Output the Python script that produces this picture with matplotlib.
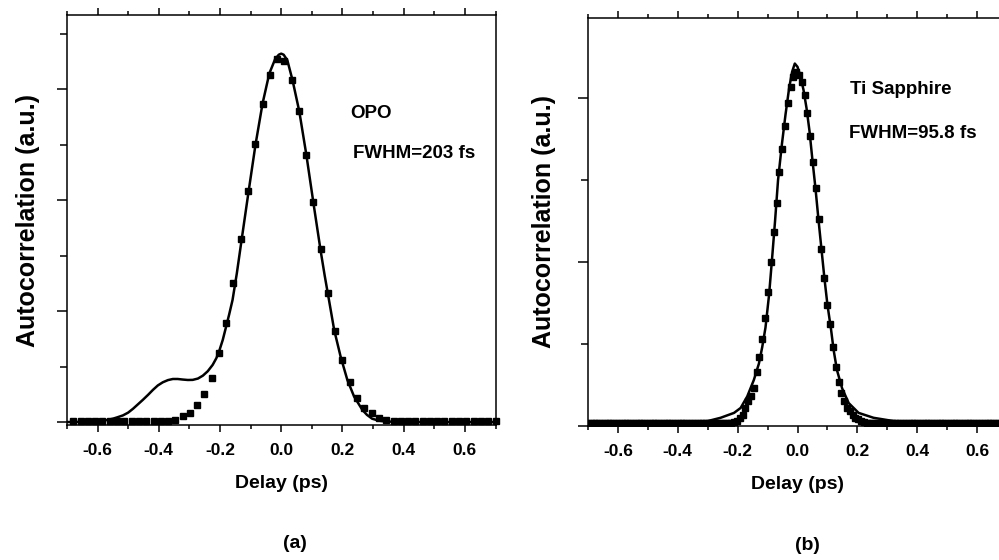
import matplotlib.pyplot as plt
from matplotlib.ticker import MultipleLocator, NullFormatter

plt.rcParams['font.family'] = ['Liberation Sans', 'DejaVu Sans']
plt.rcParams['font.weight'] = 'bold'

# (a) OPO - measured autocorrelation (squares)
opo_delay = [-0.679, -0.655, -0.631, -0.608, -0.584, -0.560, -0.536, -0.512, -0.489,
             -0.465, -0.441, -0.417, -0.394, -0.370, -0.346, -0.322, -0.299, -0.275,
             -0.251, -0.227, -0.204, -0.180, -0.156, -0.132, -0.108, -0.085, -0.061,
             -0.037, -0.013, 0.010, 0.034, 0.058, 0.082, 0.105, 0.129, 0.153, 0.177,
             0.200, 0.224, 0.248, 0.272, 0.296, 0.319, 0.343, 0.367, 0.391, 0.414,
             0.438, 0.462, 0.486, 0.510, 0.533, 0.557, 0.581, 0.605, 0.629, 0.652,
             0.676, 0.700]
opo_signal = [0.01, 0.01, 0.01, 0.01, 0.01, 0.01, 0.01, 0.01, 0.01,
              0.01, 0.01, 0.01, 0.01, 0.01, 0.02, 0.05, 0.08, 0.15,
              0.25, 0.40, 0.62, 0.89, 1.25, 1.65, 2.08, 2.51, 2.87,
              3.13, 3.27, 3.25, 3.08, 2.80, 2.41, 1.98, 1.56, 1.16, 0.82,
              0.56, 0.36, 0.22, 0.13, 0.08, 0.04, 0.02, 0.01, 0.01, 0.01,
              0.01, 0.01, 0.01, 0.01, 0.01, 0.01, 0.01, 0.01, 0.01, 0.01,
              0.01, 0.01]

# (a) OPO - solid curve
opo_fit_delay = [-0.70, -0.62, -0.58, -0.55, -0.535, -0.517, -0.50, -0.484, -0.468,
                 -0.452, -0.435, -0.419, -0.403, -0.387, -0.370, -0.354, -0.338,
                 -0.322, -0.305, -0.289, -0.272, -0.256, -0.240, -0.224, -0.212,
                 -0.202, -0.191, -0.180, -0.170, -0.159, -0.145, -0.130, -0.107,
                 -0.084, -0.061, -0.039, -0.020, -0.008, 0.0, 0.008, 0.020, 0.037,
                 0.059, 0.082, 0.106, 0.129, 0.142, 0.156, 0.173, 0.194, 0.216,
                 0.238, 0.265, 0.280, 0.297, 0.320, 0.341, 0.40, 0.70]
opo_fit = [0.0, 0.003, 0.012, 0.03, 0.043, 0.06, 0.085, 0.12, 0.16,
           0.20, 0.245, 0.29, 0.33, 0.358, 0.378, 0.388, 0.388,
           0.383, 0.379, 0.380, 0.392, 0.418, 0.458, 0.515, 0.575,
           0.645, 0.74, 0.86, 0.97, 1.10, 1.34, 1.63, 2.07,
           2.50, 2.87, 3.14, 3.27, 3.31, 3.32, 3.31, 3.26, 3.08,
           2.80, 2.41, 1.96, 1.54, 1.32, 1.10, 0.83, 0.59, 0.38,
           0.23, 0.11, 0.065, 0.03, 0.012, 0.005, 0.0, 0.0]

# (b) Ti Sapphire - measured autocorrelation (squares)
ti_delay = [-0.700, -0.691, -0.681, -0.672, -0.663, -0.653, -0.644, -0.634, -0.625,
            -0.616, -0.606, -0.597, -0.587, -0.578, -0.569, -0.559, -0.550, -0.540,
            -0.531, -0.522, -0.512, -0.503, -0.493, -0.484, -0.475, -0.465, -0.456,
            -0.446, -0.437, -0.428, -0.418, -0.409, -0.399, -0.390, -0.381, -0.371,
            -0.362, -0.352, -0.343, -0.334, -0.324, -0.315, -0.305, -0.296, -0.287,
            -0.277, -0.268, -0.258, -0.249, -0.240, -0.230, -0.221,
            -0.211, -0.202, -0.193, -0.183, -0.174, -0.164, -0.155, -0.146, -0.136,
            -0.127, -0.117, -0.108, -0.099, -0.089, -0.080, -0.070, -0.061, -0.052,
            -0.042, -0.033, -0.023, -0.014, -0.005, 0.005, 0.014, 0.024, 0.033,
            0.043, 0.052, 0.061, 0.071, 0.080, 0.090, 0.099, 0.108, 0.118, 0.127,
            0.137, 0.146, 0.155, 0.165, 0.174, 0.184, 0.193, 0.202, 0.212, 0.221,
            0.231, 0.240, 0.249, 0.259, 0.268, 0.278, 0.287, 0.296, 0.306, 0.315,
            0.325, 0.334, 0.343, 0.353, 0.362, 0.372, 0.381, 0.390, 0.400, 0.409,
            0.419, 0.428, 0.437, 0.447, 0.456, 0.466, 0.475, 0.484, 0.494, 0.503,
            0.513, 0.522, 0.531, 0.541, 0.550, 0.560, 0.569, 0.578, 0.588, 0.597,
            0.607, 0.616, 0.625, 0.635, 0.644, 0.654, 0.663, 0.672, 0.682, 0.691]
ti_signal = ([0.02] * 52 +
             [0.025, 0.03, 0.05, 0.07, 0.11, 0.15, 0.18, 0.23, 0.33,
              0.42, 0.53, 0.66, 0.82, 1.00, 1.18, 1.36, 1.55, 1.69,
              1.83, 1.97, 2.07, 2.13, 2.16, 2.14, 2.10, 2.02, 1.91,
              1.77, 1.61, 1.45, 1.26, 1.08, 0.90, 0.74, 0.62, 0.48, 0.36,
              0.27, 0.20, 0.15, 0.11, 0.09, 0.07, 0.05, 0.04, 0.03, 0.025] +
             [0.02] * 50)

# (b) Ti Sapphire - solid curve
ti_fit_delay = [-0.70, -0.40, -0.30, -0.257, -0.212, -0.19, -0.168, -0.146, -0.129,
                -0.118, -0.107, -0.095, -0.085, -0.075, -0.065, -0.052, -0.040,
                -0.028, -0.018, -0.009, 0.0, 0.010, 0.020, 0.030, 0.040, 0.050,
                0.060, 0.070, 0.080, 0.090, 0.100, 0.112, 0.121, 0.132, 0.149,
                0.171, 0.204, 0.254, 0.321, 0.40, 0.70]
ti_fit = [0.02, 0.02, 0.03, 0.05, 0.08, 0.11, 0.18, 0.28, 0.38,
          0.48, 0.60, 0.80, 1.02, 1.25, 1.50, 1.72, 1.90,
          2.06, 2.16, 2.21, 2.19, 2.13, 2.05, 1.94, 1.80, 1.62,
          1.45, 1.26, 1.08, 0.90, 0.74, 0.59, 0.46, 0.34, 0.23,
          0.14, 0.08, 0.05, 0.03, 0.02, 0.02]

fig = plt.figure(figsize=(9.99, 5.6), dpi=100)
ax_a = fig.add_axes([0.067, 0.241, 0.429, 0.732])
ax_b = fig.add_axes([0.5886, 0.2393, 0.4194, 0.7286])


def style_axes(ax, ylim, ymajor):
    ax.set_xlim(-0.7, 0.7)
    ax.set_ylim(ylim)
    ax.xaxis.set_major_locator(MultipleLocator(0.2))
    ax.xaxis.set_minor_locator(MultipleLocator(0.1))
    ax.yaxis.set_major_locator(MultipleLocator(ymajor))
    ax.yaxis.set_minor_locator(MultipleLocator(ymajor / 2))
    ax.yaxis.set_major_formatter(NullFormatter())
    ax.xaxis.set_major_formatter(lambda v, p: f"{v:.1f}".replace("-0.0", "0.0"))
    ax.tick_params(which='both', direction='out', top=True, width=1.1)
    ax.tick_params(which='major', length=5, pad=8, labelsize=12.5)
    ax.tick_params(which='minor', length=3)
    ax.tick_params(axis='y', which='major', length=7)
    ax.tick_params(axis='y', which='minor', length=5)
    for s in ax.spines.values():
        s.set_linewidth(1.1)
    for lab in ax.get_xticklabels():
        lab.set_fontweight('bold')
    ax.set_xlabel("Delay (ps)", fontsize=14, fontweight='bold', labelpad=12)
    ax.set_ylabel("Autocorrelation (a.u.)", fontsize=18, fontweight='bold')
    ax.yaxis.label.set_va('center')


style_axes(ax_a, (-0.027, 3.667), 1.0)
ax_a.plot(opo_fit_delay, opo_fit, color='black', lw=1.8, zorder=2)
ax_a.plot(opo_delay, opo_signal, 's', color='black', markersize=5, clip_on=False, zorder=3)
ax_a.yaxis.set_label_coords(-0.092, 0.5)
ax_a.text(0.66, 0.761, "OPO", transform=ax_a.transAxes, fontsize=13.5,
          fontweight='bold', va='center', ha='left')
ax_a.text(0.667, 0.663, "FWHM=203 fs", transform=ax_a.transAxes, fontsize=13.5,
          fontweight='bold', va='center', ha='left')

style_axes(ax_b, (0.0, 2.488), 1.0)
ax_b.plot(ti_fit_delay, ti_fit, color='black', lw=1.8, zorder=2)
ax_b.plot(ti_delay, ti_signal, 's', color='black', markersize=5, zorder=3)
ax_b.yaxis.set_label_coords(-0.105, 0.5)
ax_b.text(0.625, 0.824, "Ti Sapphire", transform=ax_b.transAxes, fontsize=13.5,
          fontweight='bold', va='center', ha='left')
ax_b.text(0.623, 0.718, "FWHM=95.8 fs", transform=ax_b.transAxes, fontsize=13.5,
          fontweight='bold', va='center', ha='left')

fig.text(295 / 999, 1 - 543 / 560, "(a)", fontsize=14, fontweight='bold', ha='center', va='center')
fig.text(807 / 999, 1 - 545 / 560, "(b)", fontsize=14, fontweight='bold', ha='center', va='center')

fig.savefig("out.png", dpi=100)
